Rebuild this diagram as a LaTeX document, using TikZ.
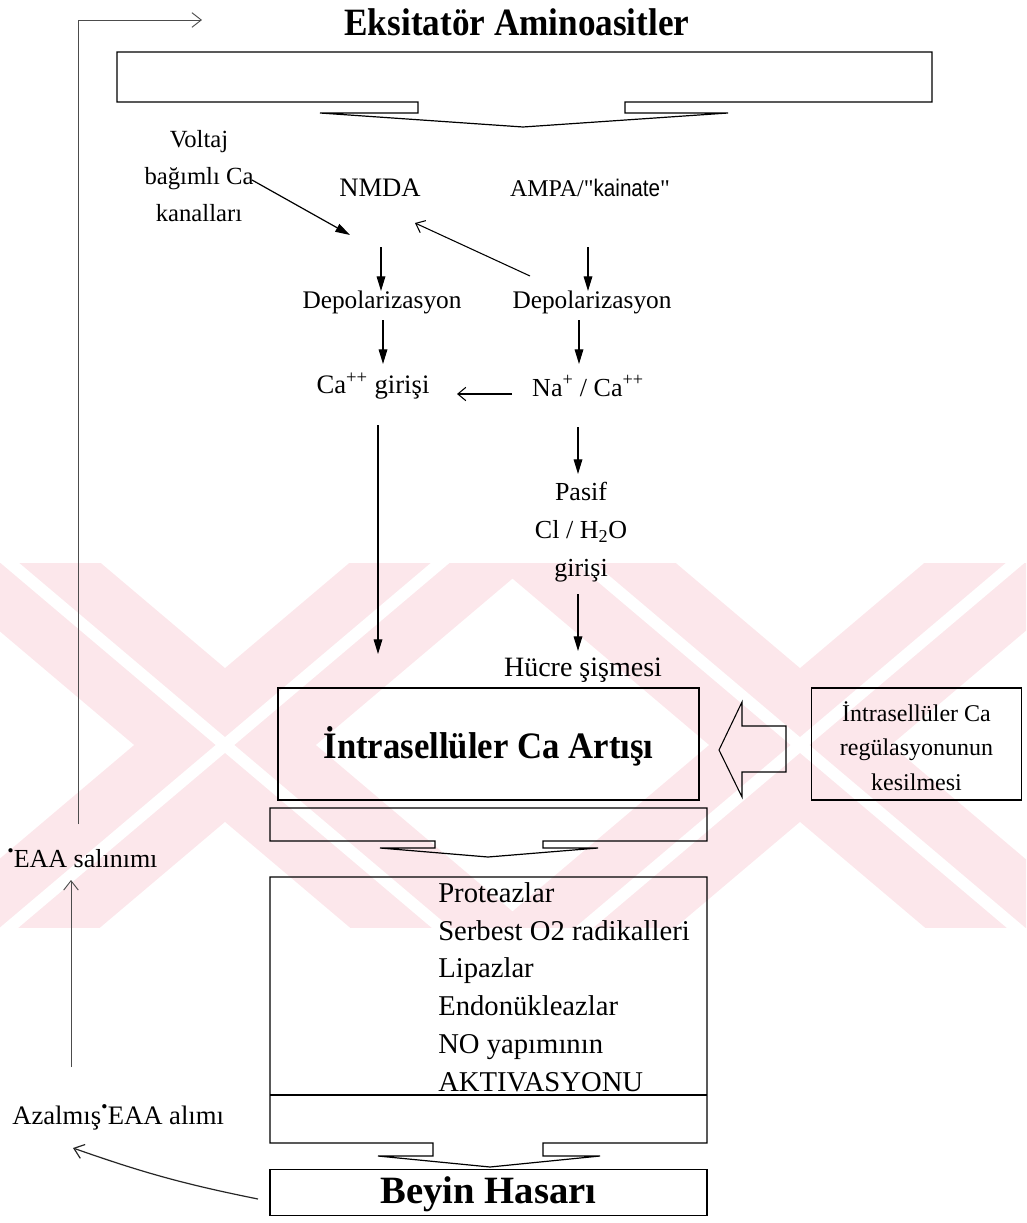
\documentclass[tikz,border=0pt]{standalone}
\usepackage{fontspec}
\setmainfont{Liberation Serif}
\setsansfont{Liberation Sans}
\newfontfamily\straightq{Liberation Serif}[Ligatures=TeXOff]
\usetikzlibrary{arrows.meta}

\definecolor{wmpink}{RGB}{252,231,235}

\tikzset{
  txt/.style={font=\fontsize{19}{27}\selectfont, inner sep=0pt, align=center},
  listtxt/.style={font=\fontsize{21.5}{28.3}\selectfont, inner sep=0pt, align=left},
  boxtxt/.style={font=\fontsize{18}{26}\selectfont, inner sep=0pt, align=center},
  bigtxt/.style={font=\bfseries\fontsize{28}{32}\selectfont, inner sep=0pt},
  frame/.style={draw, line width=0.8pt},
  blockarrow/.style={draw, line width=0.9pt, line join=miter},
  solidhead/.style={line width=0.9pt, -{Triangle[length=11pt,width=6.5pt]}},
  openhead/.style={line width=0.8pt, -{Straight Barb[length=6pt,width=10pt]}},
  feedback/.style={line width=0.7pt, black!70, -{Straight Barb[length=7pt,width=11pt]}},
  wmband/.style={wmpink, line width=88pt, line cap=butt},
  wmgap/.style={white, line width=9pt, line cap=butt}
}

\begin{document}
\begin{tikzpicture}[x=0.75pt,y=-0.75pt]
\useasboundingbox (0,0) rectangle (1026,1223);

% background watermark band
\begin{scope}
  \clip (0,563) rectangle (1026,927);
  \foreach \cx in {225,800} {
    \draw[wmband] (\cx-260,525) -- (\cx+260,965);
    \draw[wmband] (\cx+260,525) -- (\cx-260,965);
    \draw[wmgap] (\cx-260,525) -- (\cx+260,965);
    \draw[wmgap] (\cx+260,525) -- (\cx-260,965);
  }
\end{scope}

% title and top block arrow
\node[font=\bfseries\fontsize{29}{32}\selectfont, inner sep=0pt] (eaa) at (517,22)
  {\scalebox{0.91}[1]{Eksitatör Aminoasitler}};
\draw[blockarrow] (117,52) -- (932,52) -- (932,102) -- (625,102) -- (625,113)
  -- (728,113) -- (523,127) -- (320,113) -- (418,113) -- (418,102)
  -- (117,102) -- cycle;

% receptor level
\node[txt, font=\fontsize{18.5}{27.5}\selectfont] (voltaj) at (199,176) {Voltaj\\bağımlı Ca\\kanalları};
\node[txt, font=\fontsize{20}{22}\selectfont] (nmda) at (380,188) {NMDA};
\node[txt, font=\fontsize{18}{22}\selectfont] (ampa) at (590,188)
  {AMPA/{\straightq"}{\sffamily\scalebox{0.86}[1]{kainate}}{\straightq"}};

\node[txt] (depL) at (382,302) {Depolarizasyon};
\node[txt] (depR) at (592,302) {Depolarizasyon};

\node[txt, font=\fontsize{20}{22}\selectfont] (cagir) at (373,386) {Ca\textsuperscript{++} girişi};
\node[txt, font=\fontsize{19.5}{22}\selectfont] (naca) at (588,386) {Na\textsuperscript{+} / Ca\textsuperscript{++}};

\node[txt, font=\fontsize{19.5}{28.5}\selectfont] (pasif) at (581,532)
  {Pasif\\Cl / H\textsubscript{2}O\\girişi};
\node[txt, font=\fontsize{21}{24}\selectfont] (hucre) at (583,670) {Hücre şişmesi};

% connector end points
\coordinate (vS) at (252,180);
\coordinate (vE) at (350,235);
\coordinate (nS) at (381,247);
\coordinate (nE) at (381,291);
\coordinate (aS) at (588,247);
\coordinate (aE) at (588,291);
\coordinate (rS) at (530,276);
\coordinate (rE) at (415,223);
\coordinate (dLS) at (383,320);
\coordinate (dLE) at (383,364);
\coordinate (dRS) at (579,320);
\coordinate (dRE) at (579,364);
\coordinate (naS) at (512,394);
\coordinate (naE) at (457,394);
\coordinate (pS) at (578,427);
\coordinate (pE) at (578,474);
\coordinate (gS) at (578,594);
\coordinate (gE) at (578,651);
\coordinate (cS) at (378,425);
\coordinate (cE) at (378,654);

\draw[solidhead] (vS) -- (vE);
\draw[solidhead] (nS) -- (nE);
\draw[solidhead] (aS) -- (aE);
\draw[openhead] (rS) -- (rE);
\draw[solidhead] (dLS) -- (dLE);
\draw[solidhead] (dRS) -- (dRE);
\draw[openhead] (naS) -- (naE);
\draw[solidhead] (pS) -- (pE);
\draw[solidhead] (gS) -- (gE);
\draw[solidhead] (cS) -- (cE);

% central calcium box and its regulator
\node[frame, minimum width=315.75pt, minimum height=84pt] (icabox) at (488.5,744) {};
\node[bigtxt] (ica) at (488.5,746) {\scalebox{0.93}[1]{İntrasellüler Ca Artışı}};
\node[frame, minimum width=158pt, minimum height=84pt] (regbox) at (916.5,744) {};
\node[boxtxt] (reg) at (916.5,746) {İntrasellüler Ca\\regülasyonunun\\kesilmesi};

% hollow arrow from regulator box to the calcium box
\draw[line width=0.8pt, line join=miter] (719,750) -- (742,702) -- (742,726) -- (786,726)
  -- (786,772) -- (742,772) -- (742,797) -- cycle;

% second block arrow
\draw[blockarrow] (270,808) -- (707,808) -- (707,841) -- (543,841) -- (543,848)
  -- (598,848) -- (488,857) -- (380,848) -- (435,848) -- (435,841)
  -- (270,841) -- cycle;

% enzyme list box with third block arrow
\draw[blockarrow] (270,877) -- (707,877) -- (707,1143) -- (543,1143) -- (543,1156)
  -- (600,1156) -- (490,1167) -- (378,1156) -- (433,1156) -- (433,1143)
  -- (270,1143) -- cycle;
\draw[line width=0.8pt] (270,1095) -- (707,1095);
\node[listtxt, anchor=west] (enz) at (438,987)
  {Proteazlar\\Serbest O2 radikalleri\\Lipazlar\\Endonükleazlar\\NO yapımının\\AKTIVASYONU};

% final outcome
\node[frame, minimum width=327.75pt, minimum height=34pt] (beyinbox) at (488.5,1192.5) {};
\node[font=\bfseries\fontsize{29}{32}\selectfont, inner sep=0pt] (beyin) at (488.5,1194) {Beyin Hasarı};

% left feedback loop
\node[txt, anchor=west, font=\fontsize{19.5}{24}\selectfont] (salin) at (7,858) {\raisebox{0.6em}{\textbf{.}}EAA salınımı};
\node[txt, anchor=west, font=\fontsize{20}{24}\selectfont] (alim) at (12,1117) {Azalmış\raisebox{0.6em}{\textbf{.}}EAA alımı};

\coordinate (fbS) at (78,824);
\coordinate (fbE) at (202,20);
\coordinate (upS) at (71,1067);
\coordinate (upE) at (71,880);
\coordinate (bhS) at (258,1199);
\coordinate (bhE) at (73,1148);

\draw[feedback] (fbS) |- (fbE);
\draw[feedback] (upS) -- (upE);
\draw[feedback, black!85, line width=0.9pt] (bhS) to[bend left=4] (bhE);

\end{tikzpicture}
\end{document}
